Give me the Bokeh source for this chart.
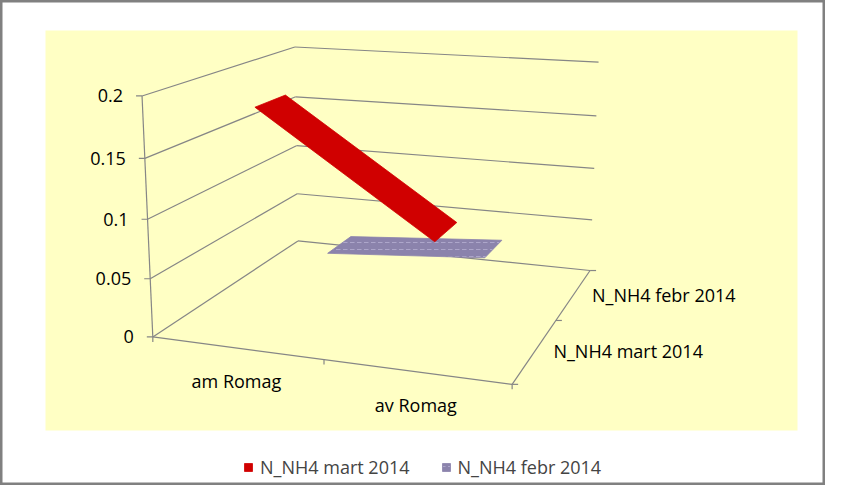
import numpy as np
from bokeh.plotting import figure
from bokeh.models import Legend, LegendItem, Range1d
from bokeh.core.properties import value
from bokeh.embed import file_html
from bokeh.resources import INLINE

# ---------------- data ----------------
categories = ["am Romag", "av Romag"]
series_names = ["N_NH4 mart 2014", "N_NH4 febr 2014"]
mart_values = [0.188, 0.091]
febr_values = [0.024, 0.035]
value_ticks = [0.0, 0.05, 0.1, 0.15, 0.2]
value_tick_labels = ["0", "0.05", "0.1", "0.15", "0.2"]
value_max = 0.2

series_values = [mart_values, febr_values]
series_fill = ["#D00000", "#8B83AC"]
series_hatch = [None, "horizontal_dash"]

# ------------- camera calibration (box corners -> screen) -------------
cal_box = np.array([
    [0, 0, 0], [1, 0, 0], [1, 1, 0], [0, 1, 0],
    [0, 0, 1], [0, 1, 1], [1, 1, 1],
    [0.5, 0, 0], [1, 0.5, 0],
    [0, 0, 0.5], [0, 1, 0.5], [1, 1, 0.5],
], dtype=float)
cal_screen = np.array([
    [153, 336.3], [512, 384], [589.5, 270], [297, 241],
    [141, 96], [295, 46], [598, 62],
    [322.7, 358.5], [556, 320],
    [147, 218.7], [296, 145], [593.3, 167.7],
], dtype=float)


def fit_camera(X, x):
    m = x.mean(axis=0)
    s = x.std()
    xn = (x - m) / s
    rows = []
    for P3, (sx, sy) in zip(X, xn):
        Xh = list(P3) + [1.0]
        rows.append(Xh + [0, 0, 0, 0] + [-sx * c for c in Xh])
        rows.append([0, 0, 0, 0] + Xh + [-sy * c for c in Xh])
    _, _, Vt = np.linalg.svd(np.array(rows, dtype=float))
    return Vt[-1].reshape(3, 4), m, s


CAM, CAM_M, CAM_S = fit_camera(cal_box, cal_screen)


def project(u, v, w):
    u = np.atleast_1d(np.asarray(u, dtype=float))
    v = np.atleast_1d(np.asarray(v, dtype=float))
    w = np.atleast_1d(np.asarray(w, dtype=float))
    u, v, w = np.broadcast_arrays(u, v, w)
    H = np.vstack([u, v, w, np.ones_like(u)])
    h = CAM @ H
    sx = h[0] / h[2] * CAM_S + CAM_M[0]
    sy = h[1] / h[2] * CAM_S + CAM_M[1]
    return sx, sy


def cat_u(i):
    return (i + 0.5) / len(categories)


def row_v(j):
    return (j + 0.5) / len(series_names)


RIBBON_HALF = 0.1

# ---------------- figure ----------------
p = figure(width=825, height=485, output_backend="svg", toolbar_location=None,
           x_range=Range1d(0, 825), y_range=Range1d(485, 0),
           x_axis_location=None, y_axis_location=None, min_border=0)
p.grid.visible = False
p.background_fill_color = "white"
p.border_fill_color = "white"
p.outline_line_color = "#808080"
p.outline_line_width = 4

# plot-area background
p.quad(left=45, right=797, top=30, bottom=430, fill_color="#FFFFC4", line_color=None)

GRID = "#868686"

# gridlines on back wall and left wall
xs, ys = [], []
for t in value_ticks:
    w = t / value_max
    gx, gy = project([0, 1], [1, 1], [w, w])
    xs.append(list(gx)); ys.append(list(gy))
    gx, gy = project([0, 0], [0, 1], [w, w])
    xs.append(list(gx)); ys.append(list(gy))
# axes lines: value axis, category axis, depth axis
gx, gy = project([0, 0], [0, 0], [0, 1]); xs.append(list(gx)); ys.append(list(gy))
gx, gy = project([0, 1], [0, 0], [0, 0]); xs.append(list(gx)); ys.append(list(gy))
gx, gy = project([1, 1], [0, 1], [0, 0]); xs.append(list(gx)); ys.append(list(gy))
p.multi_line(xs, ys, line_color=GRID, line_width=1.2)

# tick marks
txs, tys = [], []
for t in value_ticks:
    ax, ay = project(0, 0, t / value_max)
    txs.append([ax[0] - 6, ax[0]]); tys.append([ay[0], ay[0]])
for k in range(len(categories) + 1):
    ax, ay = project(k / len(categories), 0, 0)
    txs.append([ax[0], ax[0]]); tys.append([ay[0], ay[0] + 5])
for k in range(len(series_names) + 1):
    ax, ay = project(1, k / len(series_names), 0)
    txs.append([ax[0], ax[0] + 6]); tys.append([ay[0], ay[0]])
p.multi_line(txs, tys, line_color=GRID, line_width=1.2)

# ribbons (back series first)
renderers = {}
for j in reversed(range(len(series_names))):
    vals = series_values[j]
    vc = row_v(j)
    us = [cat_u(0), cat_u(1), cat_u(1), cat_u(0)]
    vs = [vc - RIBBON_HALF, vc - RIBBON_HALF, vc + RIBBON_HALF, vc + RIBBON_HALF]
    ws = [vals[0] / value_max, vals[1] / value_max, vals[1] / value_max, vals[0] / value_max]
    rx, ry = project(us, vs, ws)
    kw = {}
    if series_hatch[j]:
        kw = dict(hatch_pattern=series_hatch[j], hatch_color="#C9C3E2",
                  hatch_alpha=0.55, hatch_scale=7, hatch_weight=1)
    r = p.patch(list(rx), list(ry), fill_color=series_fill[j], line_color=series_fill[j],
                line_width=0.8, **kw)
    renderers[j] = r

FONT = value("Open Sans")

# value axis labels
lx, ly = project(np.zeros(len(value_ticks)), np.zeros(len(value_ticks)),
                 np.array(value_ticks) / value_max)
p.text(x=list(lx - 19), y=list(ly), text=value_tick_labels, text_font=FONT,
       text_font_size=value("18px"), text_align="right", text_baseline="middle",
       text_color="black")

# category labels
cx, cy = project([cat_u(i) for i in range(len(categories))], 0, 0)
p.text(x=list(cx), y=list(cy + 33), text=categories, text_font=FONT,
       text_font_size=value("18px"), text_align="center", text_baseline="middle",
       text_color="black")

# depth (series) labels
dx, dy = project(1, [row_v(j) for j in range(len(series_names))], 0)
p.text(x=list(dx + 18), y=list(dy + 1), text=series_names, text_font=FONT,
       text_font_size=value("18px"), text_align="left", text_baseline="middle",
       text_color="black")

legend = Legend(items=[LegendItem(label=series_names[0], renderers=[renderers[0]]),
                       LegendItem(label=series_names[1], renderers=[renderers[1]])],
                orientation="horizontal", location=(243, 6),
                label_text_font="Open Sans", label_text_font_size="18px",
                glyph_width=10, glyph_height=10, label_standoff=7, spacing=31,
                padding=0, margin=0, label_height=20,
                border_line_color=None, background_fill_alpha=0)
p.add_layout(legend, "center")

open("out.html", "w").write(file_html(p, INLINE))
